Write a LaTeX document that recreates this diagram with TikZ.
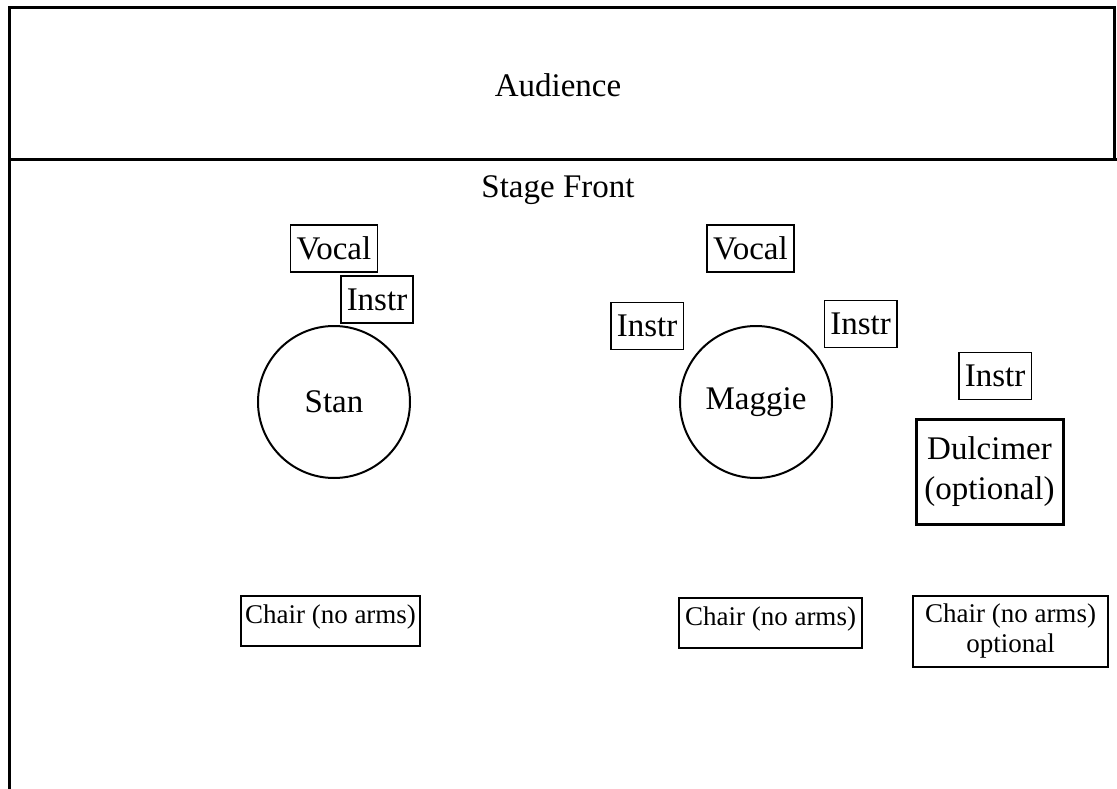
\documentclass[tikz,border=0pt]{standalone}
\usepackage{fontspec}
\setmainfont{Liberation Serif}

\tikzset{
    label box/.style={draw, line width=1.5pt, inner xsep=6pt, inner ysep=0pt,
        minimum height=47pt, font=\fontsize{33}{36}\selectfont},
    chair box/.style={draw, line width=1.5pt, inner xsep=4pt, inner ysep=4pt,
        align=center, font=\fontsize{27}{30}\selectfont},
    player/.style={draw, circle, line width=2pt, minimum size=152pt,
        font=\fontsize{33}{36}\selectfont}
}

\begin{document}
\begin{tikzpicture}[x=1pt, y=-1pt]
    \useasboundingbox (0,0) rectangle (1117,789);

    % Audience and stage outline
    \draw[line width=3pt] (9,789) -- (9,8) -- (1114,8) -- (1114,160);
    \draw[line width=3pt] (9,160) -- (1117,160);
    \node[font=\fontsize{33}{36}\selectfont] (audience) at (558,85) {Audience};
    \node[font=\fontsize{33}{36}\selectfont] (front) at (558,190) {Stage Front};

    % Stan
    \node[player] (stan) at (334,402) {Stan};
    \node[label box] (stanvocal) at (334,248.5) {Vocal};
    \node[label box] (staninstr) at (377,299.5) {Instr};
    \node[chair box, minimum width=175pt, minimum height=50pt, text depth=14pt] (stanchair) at (330.5,621) {Chair (no arms)};

    % Maggie
    \node[player] (maggie) at (756,402) {Maggie};
    \node[label box] (magvocal) at (750.5,248.5) {Vocal};
    \node[label box] (maginstra) at (647,326) {Instr};
    \node[label box] (maginstrb) at (860.5,324) {Instr};
    \node[chair box, minimum width=183pt, minimum height=50pt, text depth=14pt] (magchair) at (770.5,623) {Chair (no arms)};

    % Dulcimer (optional)
    \node[label box] (dulinstr) at (995,376) {Instr};
    \node[draw, line width=3pt, minimum width=147pt, minimum height=105pt, align=center,
        font=\fontsize{33}{40}\selectfont] (dulcimer) at (989.5,471.5) {Dulcimer\\(optional)};
    \node[chair box, minimum width=195pt, minimum height=71pt] (dulchair) at (1010.5,631.5) {Chair (no arms)\\optional};
\end{tikzpicture}
\end{document}
